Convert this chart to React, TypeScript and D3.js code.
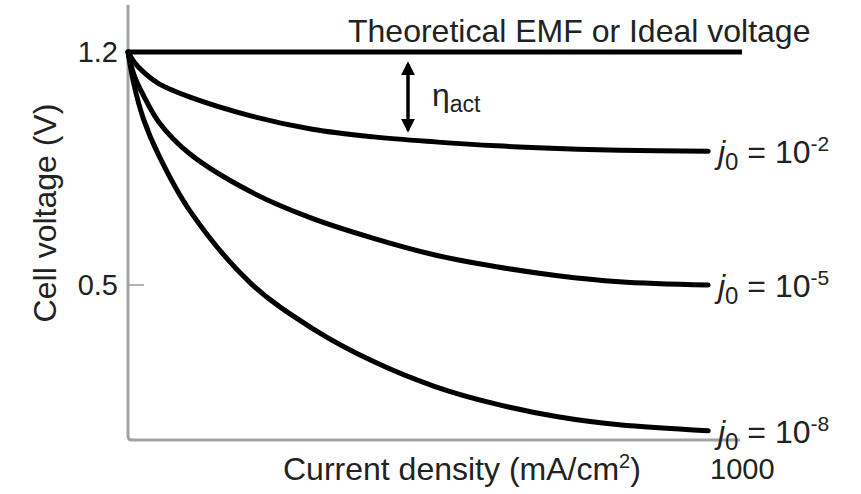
import React from "react";
import * as d3 from "d3";

const currents = [0, 10, 25, 50, 100, 200, 300, 400, 500, 600, 700, 800, 945];
const vJ0e2 = [1.2, 1.17, 1.14, 1.105, 1.065, 1.008, 0.968, 0.945, 0.93, 0.918, 0.91, 0.905, 0.902];
const vJ0e5 = [1.2, 1.13, 1.07, 0.99, 0.895, 0.78, 0.7, 0.64, 0.59, 0.555, 0.528, 0.51, 0.5];
const vJ0e8 = [1.2, 1.1, 1.0, 0.89, 0.725, 0.505, 0.37, 0.27, 0.195, 0.142, 0.104, 0.08, 0.062];
const seriesExp = ["-2", "-5", "-8"];
const idealV = 1.2;
const yTicks = [0.5, 1.2];
const xMax = 1000;

const W = 861;
const H = 494;
const FONT = "'Liberation Sans', Arial, Helvetica, sans-serif";

export default function App() {
  const x = d3.scaleLinear().domain([0, xMax]).range([128, 742]);
  const y = d3.scaleLinear().domain([0.5, 1.2]).range([285, 52]);
  const axisBottom = 440;
  const axisTop = 5;
  const axisRight = 740;

  const line = d3
    .line<number>()
    .x((_, i) => x(currents[i]))
    .y((d) => y(d))
    .curve(d3.curveCatmullRom.alpha(0.5));

  const series = [vJ0e2, vJ0e5, vJ0e8];
  const fs = 32;
  const nfs = 29;

  return (
    <svg width={W} height={H} style={{ position: "absolute", left: 0, top: 0, background: "#fff" }} fontFamily={FONT}>
      {/* axes */}
      <path
        d={`M${x(0)},${axisTop} L${x(0)},${axisBottom - 4} Q${x(0)},${axisBottom} ${x(0) + 4},${axisBottom} L${axisRight},${axisBottom}`}
        fill="none"
        stroke="#a3a3a3"
        strokeWidth={3}
      />
      {yTicks.map((t) => (
        <g key={t}>
          <line x1={x(0)} x2={x(0) + 16} y1={y(t)} y2={y(t)} stroke="#9a9a9a" strokeWidth={1.5} />
          <text x={118} y={y(t)} dy="0.36em" textAnchor="end" fontSize={nfs} fill="#222">
            {t.toFixed(1)}
          </text>
        </g>
      ))}
      <text x={710} y={479} fontSize={nfs} fill="#222">
        {xMax}
      </text>
      <text x={283} y={480} fontSize={fs} fill="#222">
        Current density (mA/cm
        <tspan dy={-12} fontSize={20}>2</tspan>
        <tspan dy={12}>)</tspan>
      </text>
      <text transform={`translate(56,213) rotate(-90)`} textAnchor="middle" fontSize={fs} fill="#222">
        Cell voltage (V)
      </text>

      {/* ideal line */}
      <line x1={x(0)} x2={x(xMax)} y1={y(idealV)} y2={y(idealV)} stroke="#000" strokeWidth={5} />
      <text x={348} y={42} fontSize={fs} fill="#222">
        Theoretical EMF or Ideal voltage
      </text>

      {/* curves */}
      {series.map((s, i) => (
        <path key={i} d={line(s) || ""} fill="none" stroke="#000" strokeWidth={5} strokeLinecap="round" />
      ))}
      {series.map((s, i) => {
        const yy = y(s[s.length - 1]);
        return (
          <text key={"l" + i} x={718} y={yy + 12} fontSize={fs} fill="#222">
            <tspan fontStyle="italic">j</tspan>
            <tspan dy={7} fontSize={24}>0</tspan>
            <tspan dy={-7}> = 10</tspan>
            <tspan dy={-12} fontSize={21}>{seriesExp[i]}</tspan>
          </text>
        );
      })}

      {/* eta arrow */}
      <defs>
        <marker id="ah" viewBox="0 0 10 10" refX="8" refY="5" markerWidth="4" markerHeight="4" orient="auto-start-reverse">
          <path d="M0,0 L10,5 L0,10 z" fill="#000" />
        </marker>
      </defs>
      <line x1={408} x2={408} y1={64} y2={130} stroke="#000" strokeWidth={3.5} markerStart="url(#ah)" markerEnd="url(#ah)" />
      <text x={432} y={106} fontSize={fs} fill="#222">
        η<tspan dy={6} fontSize={23}>act</tspan>
      </text>
    </svg>
  );
}
